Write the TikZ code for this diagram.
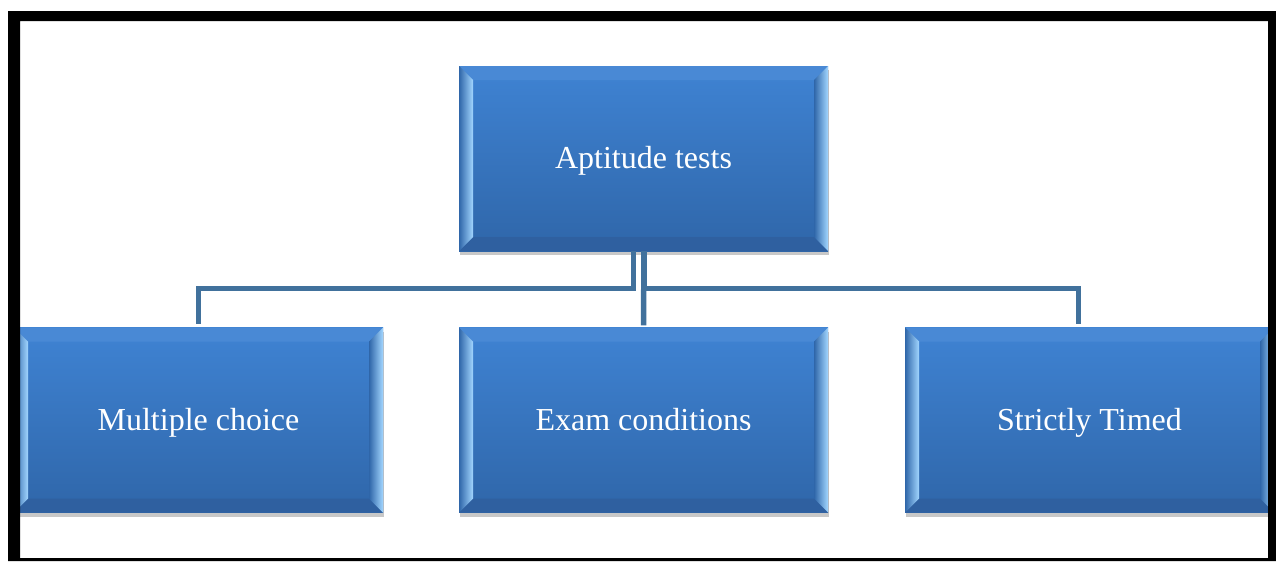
\documentclass[tikz,border=0pt]{standalone}
\usepackage{fontspec}
\setmainfont{Liberation Serif}
\usetikzlibrary{shadows}

\definecolor{tileTop}{HTML}{3F83D3}
\definecolor{tileBot}{HTML}{2F66A9}
\definecolor{tileLight}{HTML}{A2D6FF}
\definecolor{tileDark}{HTML}{2F60A0}
\definecolor{linkBlue}{HTML}{41719C}

\tikzset{
  tilebox/.style={rectangle, minimum width=369pt, minimum height=185pt, inner sep=0pt,
    text=white, font=\fontsize{32}{38}\selectfont, text height=24pt, text depth=4pt,
    top color=tileTop, bottom color=tileBot,
    drop shadow={shadow xshift=1pt, shadow yshift=-4pt, opacity=0.3, fill=black!70},
    path picture={
      % bevel edges
      \fill[tileTop!95!white] (path picture bounding box.north west) -- (path picture bounding box.north east)
        -- ([xshift=-14pt,yshift=-14pt]path picture bounding box.north east)
        -- ([xshift=14pt,yshift=-14pt]path picture bounding box.north west) -- cycle;
      \fill[tileDark] (path picture bounding box.south west) -- (path picture bounding box.south east)
        -- ([xshift=-14pt,yshift=14pt]path picture bounding box.south east)
        -- ([xshift=14pt,yshift=14pt]path picture bounding box.south west) -- cycle;
      \shade[left color=tileBot, right color=tileLight] (path picture bounding box.south west)
        -- (path picture bounding box.north west)
        -- ([xshift=14pt,yshift=-14pt]path picture bounding box.north west)
        -- ([xshift=14pt,yshift=14pt]path picture bounding box.south west) -- cycle;
      \shade[left color=tileBot, right color=tileLight] (path picture bounding box.south east)
        -- (path picture bounding box.north east)
        -- ([xshift=-14pt,yshift=-14pt]path picture bounding box.north east)
        -- ([xshift=-14pt,yshift=14pt]path picture bounding box.south east) -- cycle;
    }},
  link/.style={draw=linkBlue, line width=5.5pt}
}

\begin{document}
\begin{tikzpicture}[x=1pt, y=-1pt]
  \useasboundingbox (0,0) rectangle (1276,563);
  \fill[white] (0,0) rectangle (1276,563);

  \node [tilebox] (top) at (643.5,158.5) {Aptitude tests};
  \node [tilebox] (multi) at (198.5,420) {Multiple choice};
  \node [tilebox] (exam) at (643.5,420) {Exam conditions};
  \node [tilebox] (timed) at (1089.5,420) {Strictly Timed};

  \path[link] ([xshift=-10pt]top.south) |- ([yshift=39pt]multi.north) -- ([yshift=3pt]multi.north);
  \path[link] ([xshift=0.5pt]top.south) -- ([yshift=2pt]exam.north);
  \path[link] ([xshift=0.5pt]top.south) |- ([xshift=-11pt,yshift=39pt]timed.north) -- ([xshift=-11pt,yshift=3pt]timed.north);

  % frame
  \fill[black, even odd rule] (8,11) rectangle (1276,561) (20,21) rectangle (1268,558);
\end{tikzpicture}
\end{document}
